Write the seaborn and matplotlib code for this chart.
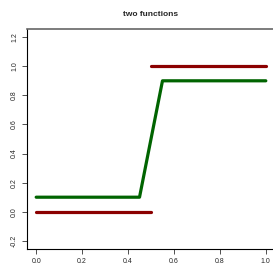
import matplotlib
matplotlib.use("Agg")
import matplotlib.pyplot as plt
import seaborn as sns

# data
red_lo_x = [0.0, 0.5]
red_lo_y = [0.0, 0.0]
red_hi_x = [0.5, 1.0]
red_hi_y = [1.0, 1.0]
green_x = [0.0, 0.45, 0.55, 1.0]
green_y = [0.1, 0.1, 0.9, 0.9]
x_ticks = [0.0, 0.2, 0.4, 0.6, 0.8, 1.0]
y_ticks = [-0.2, 0.0, 0.2, 0.4, 0.6, 0.8, 1.0, 1.2]

sns.set_style("ticks")
plt.rcParams["font.family"] = ["Liberation Sans", "DejaVu Sans"]

fig = plt.figure(figsize=(2.73, 2.67), dpi=100)
ax = fig.add_axes([27 / 273, 1 - 249 / 267, 248 / 273, 220 / 267])

lw = 2.3
sns.lineplot(x=red_lo_x, y=red_lo_y, color="#8B0000", lw=lw, ax=ax)
sns.lineplot(x=red_hi_x, y=red_hi_y, color="#8B0000", lw=lw, ax=ax)
sns.lineplot(x=green_x, y=green_y, color="#006400", lw=lw, ax=ax, sort=False)

ax.set_xlim(-0.04, 1.04)
ax.set_ylim(-0.256, 1.256)
ax.set_xticks(x_ticks)
ax.set_yticks(y_ticks)
ax.set_xticklabels([f"{t:.1f}" for t in x_ticks])
ax.set_yticklabels([f"{t:.1f}" for t in y_ticks], rotation=90, va="center")
ax.tick_params(axis="both", labelsize=5, length=3.5, width=0.6, color="#333333", pad=3)

for side in ["left", "bottom"]:
    ax.spines[side].set_color("black")
    ax.spines[side].set_linewidth(0.8)
ax.spines["right"].set_visible(False)
ax.spines["top"].set_visible(True)
ax.spines["top"].set_color("#666666")
ax.spines["top"].set_linewidth(1.2)

ax.set_title("two functions", fontsize=6, fontweight="bold", pad=9)

fig.savefig("out.png", dpi=100)
